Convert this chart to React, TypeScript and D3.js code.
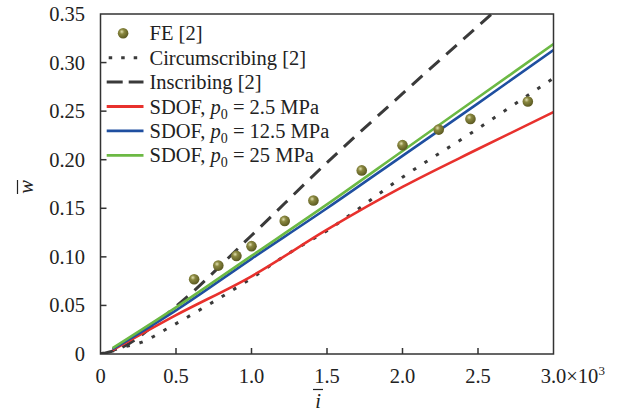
import React, { useEffect, useRef } from 'react';
import * as d3 from 'd3';

// FE points
const feX = [0.62, 0.78, 0.9, 1.0, 1.22, 1.41, 1.73, 2.0, 2.24, 2.45, 2.83];
const feY = [0.077, 0.091, 0.101, 0.111, 0.137, 0.158, 0.189, 0.215, 0.231, 0.242, 0.26];

// analytical curves
const circX = [0, 0.15, 0.27, 0.44, 0.75, 1.0, 1.23, 1.5, 2.0, 2.45, 3.0];
const circY = [0, 0.007, 0.012, 0.026, 0.054, 0.078, 0.102, 0.127, 0.182, 0.227, 0.284];
const inscX = [0, 0.1, 0.5, 1.0, 1.5, 2.0, 2.59];
const inscY = [0, 0.004, 0.049, 0.122, 0.197, 0.268, 0.35];

// SDOF curves
const sdofX = [0.08, 0.5, 1.0, 1.5, 2.0, 2.5, 3.0];
const sdof25 = [0.004, 0.04, 0.08, 0.128, 0.172, 0.211, 0.249];
const sdof125 = [0.005, 0.045, 0.098, 0.15, 0.204, 0.258, 0.313];
const sdof250 = [0.006, 0.048, 0.101, 0.154, 0.209, 0.264, 0.319];

const xTicks = [0, 0.5, 1.0, 1.5, 2.0, 2.5, 3.0];
const yTicks = [0, 0.05, 0.1, 0.15, 0.2, 0.25, 0.3, 0.35];

const RED = '#e8312d';
const BLUE = '#1f4fa0';
const GREEN = '#6cb944';
const DARK = '#333333';
const FONT = '"Liberation Serif", "Times New Roman", serif';

const App = () => {
  const svgRef = useRef<SVGSVGElement>(null);

  useEffect(() => {
    const svg = d3.select(svgRef.current);
    svg.selectAll('*').remove();

    const left = 100.5, right = 553.5, top = 14, bottom = 354;
    const x = d3.scaleLinear().domain([0, 3]).range([left, right]);
    const y = d3.scaleLinear().domain([0, 0.35]).range([bottom, top]);

    const defs = svg.append('defs');
    const grad = defs.append('radialGradient').attr('id', 'ball').attr('cx', '38%').attr('cy', '35%').attr('r', '65%');
    grad.append('stop').attr('offset', '0%').attr('stop-color', '#e2e0b0');
    grad.append('stop').attr('offset', '35%').attr('stop-color', '#8a8840');
    grad.append('stop').attr('offset', '100%').attr('stop-color', '#5c5a22');
    defs.append('clipPath').attr('id', 'plotClip')
      .append('rect').attr('x', left).attr('y', top).attr('width', right - left).attr('height', bottom - top);

    const plot = svg.append('g').attr('clip-path', 'url(#plotClip)');

    const line = d3.line<[number, number]>()
      .x((d) => x(d[0]))
      .y((d) => y(d[1]))
      .curve(d3.curveMonotoneX);

    const zip = (xs: number[], ys: number[]) => xs.map((v, i) => [v, ys[i]] as [number, number]);

    plot.append('path').attr('d', line(zip(inscX, inscY)))
      .attr('fill', 'none').attr('stroke', '#3a3a3a').attr('stroke-width', 3).attr('stroke-dasharray', '14 9');
    plot.append('path').attr('d', line(zip(circX, circY)))
      .attr('fill', 'none').attr('stroke', '#3a3a3a').attr('stroke-width', 3).attr('stroke-dasharray', '3.5 10');
    plot.append('path').attr('d', line(zip(sdofX, sdof25)))
      .attr('fill', 'none').attr('stroke', RED).attr('stroke-width', 2.6);
    plot.append('path').attr('d', line(zip(sdofX, sdof125)))
      .attr('fill', 'none').attr('stroke', BLUE).attr('stroke-width', 2.6);
    plot.append('path').attr('d', line(zip(sdofX, sdof250)))
      .attr('fill', 'none').attr('stroke', GREEN).attr('stroke-width', 2.6);

    plot.selectAll('circle.fe').data(zip(feX, feY)).enter().append('circle')
      .attr('class', 'fe')
      .attr('cx', (d) => x(d[0]))
      .attr('cy', (d) => y(d[1]))
      .attr('r', 5.3)
      .attr('fill', 'url(#ball)');

    // frame
    svg.append('rect').attr('x', left).attr('y', top).attr('width', right - left).attr('height', bottom - top)
      .attr('fill', 'none').attr('stroke', DARK).attr('stroke-width', 1.5);

    // ticks (inward)
    svg.selectAll('line.xt').data(xTicks.slice(1, -1)).enter().append('line')
      .attr('x1', (d) => x(d)).attr('x2', (d) => x(d))
      .attr('y1', bottom).attr('y2', bottom - 6)
      .attr('stroke', DARK).attr('stroke-width', 1.5);
    svg.selectAll('line.yt').data(yTicks.slice(1, -1)).enter().append('line')
      .attr('y1', (d) => y(d)).attr('y2', (d) => y(d))
      .attr('x1', left).attr('x2', left + 6)
      .attr('stroke', DARK).attr('stroke-width', 1.5);

    const txt = (sel: any) => sel.attr('font-family', FONT).attr('font-size', 20.5).attr('fill', '#222');

    svg.selectAll('text.yl').data(yTicks).enter().append('text')
      .call(txt)
      .attr('x', 85).attr('y', (d) => y(d) + 7)
      .attr('text-anchor', 'end')
      .text((d) => (d === 0 ? '0' : d3.format('.2f')(d)));

    svg.selectAll('text.xl').data(xTicks.slice(0, -1)).enter().append('text')
      .call(txt)
      .attr('x', (d) => x(d)).attr('y', 383)
      .attr('text-anchor', 'middle')
      .text((d) => (d === 0 ? '0' : d3.format('.1f')(d)));

    const last = svg.append('text').call(txt).attr('x', x(3) - 12.8).attr('y', 383);
    last.append('tspan').text('3.0×10');
    last.append('tspan').attr('font-size', 13).attr('dy', -8).text('3');

    // axis titles
    svg.append('text').call(txt).attr('x', 318).attr('y', 408).attr('text-anchor', 'middle')
      .attr('font-style', 'italic').text('i');
    svg.append('line').attr('x1', 313).attr('x2', 323).attr('y1', 389.5).attr('y2', 389.5)
      .attr('stroke', '#222').attr('stroke-width', 1.2);

    svg.append('text').call(txt).attr('transform', 'translate(33,187) rotate(-90)')
      .attr('text-anchor', 'middle').attr('font-style', 'italic').text('w');
    svg.append('line').attr('x1', 17.5).attr('x2', 17.5).attr('y1', 180).attr('y2', 194)
      .attr('stroke', '#222').attr('stroke-width', 1.2);

    // legend
    const lg = svg.append('g');
    const rowY = (i: number) => 33.3 + i * 24.4;
    const sx0 = 106.7, sx1 = 143.5, tx = 149.5;

    lg.append('circle').attr('cx', (sx0 + sx1) / 2 - 2).attr('cy', rowY(0)).attr('r', 5.3).attr('fill', 'url(#ball)');
    lg.append('line').attr('x1', sx0 + 2).attr('x2', sx1).attr('y1', rowY(1)).attr('y2', rowY(1))
      .attr('stroke', '#3a3a3a').attr('stroke-width', 3).attr('stroke-dasharray', '3.5 9');
    lg.append('line').attr('x1', sx0).attr('x2', sx1).attr('y1', rowY(2)).attr('y2', rowY(2))
      .attr('stroke', '#3a3a3a').attr('stroke-width', 3).attr('stroke-dasharray', '16 6');
    [RED, BLUE, GREEN].forEach((c, i) => {
      lg.append('line').attr('x1', sx0).attr('x2', sx1).attr('y1', rowY(3 + i)).attr('y2', rowY(3 + i))
        .attr('stroke', c).attr('stroke-width', 2.8);
    });

    lg.append('text').call(txt).attr('x', tx).attr('y', rowY(0) + 7).text('FE [2]');
    lg.append('text').call(txt).attr('x', tx).attr('y', rowY(1) + 7).text('Circumscribing [2]');
    lg.append('text').call(txt).attr('x', tx).attr('y', rowY(2) + 7).text('Inscribing [2]');
    ['2.5', '12.5', '25'].forEach((p, i) => {
      const t = lg.append('text').call(txt).attr('x', tx).attr('y', rowY(3 + i) + 7);
      t.append('tspan').text('SDOF, ');
      t.append('tspan').attr('font-style', 'italic').text('p');
      t.append('tspan').attr('font-size', 14).attr('dy', 5).text('0');
      t.append('tspan').attr('dy', -5).text(` = ${p} MPa`);
    });
  }, []);

  return (
    <svg
      ref={svgRef}
      width={619}
      height={414}
      style={{ position: 'absolute', left: 0, top: 0, background: '#fff' }}
    />
  );
};

export default App;
